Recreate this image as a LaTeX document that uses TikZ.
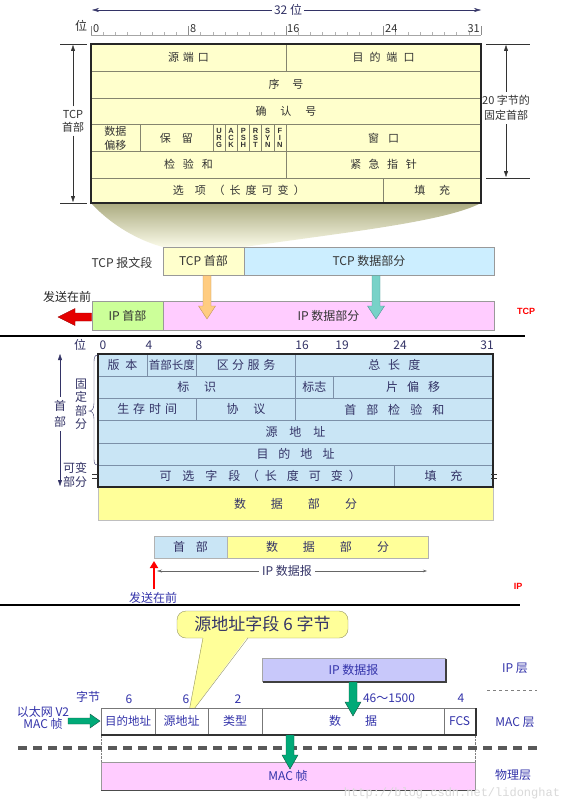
\documentclass[tikz,border=0pt]{standalone}
\usepackage{fontspec}
\setmainfont{Noto Sans CJK SC}
\newfontfamily\lsans{Liberation Sans}
\newfontfamily\wmfont{Liberation Mono}
\usetikzlibrary{arrows.meta,calc}
\makeatletter
\newcommand{\sptext}[2]{\def\sptext@w{#1}\@tfor\sptext@c:=#2\do{\makebox[\sptext@w]{\sptext@c}}}
\makeatother
\newcommand{\boxnode}[7][]{\pgfmathsetmacro\bnw{#5-#3}\pgfmathsetmacro\bnh{#6-#4}%
  \node[boxn,#1,minimum width=\bnw pt,minimum height=\bnh pt] (#2) at ({(#3+#5)/2},{(#4+#6)/2}) {#7};}
% vertical fat arrow: x, y-tail, y-tip, shaft half, head half, style, head length (signed)
\newcommand{\fatv}[7]{\filldraw[#6] ({#1-#4},#2) -- ({#1-#4},{#3-#7}) -- ({#1-#5},{#3-#7}) -- (#1,#3) -- ({#1+#5},{#3-#7}) -- ({#1+#4},{#3-#7}) -- ({#1+#4},#2) -- cycle;}
% horizontal fat arrow: y, x-tail, x-tip, shaft half, head half, style, head length (signed)
\newcommand{\fath}[7]{\filldraw[#6] (#2,{#1-#4}) -- ({#3-#7},{#1-#4}) -- ({#3-#7},{#1-#5}) -- (#3,#1) -- ({#3-#7},{#1+#5}) -- ({#3-#7},{#1+#4}) -- (#2,{#1+#4}) -- cycle;}
\definecolor{tcpy}{HTML}{FFFFCC}
\definecolor{tcpline}{HTML}{85856E}
\definecolor{tcptxt}{HTML}{333333}
\definecolor{ipb}{HTML}{C9E5F5}
\definecolor{ipline}{HTML}{7C90A8}
\definecolor{iptxt}{HTML}{333366}
\definecolor{datay}{HTML}{FFFF99}
\definecolor{lgreen}{HTML}{CCFF99}
\definecolor{lpink}{HTML}{FFCCFF}
\definecolor{lblue}{HTML}{CCEEFF}
\definecolor{purp}{HTML}{C8C8FA}
\definecolor{mactxt}{HTML}{3333AA}
\definecolor{macline}{HTML}{777777}
\definecolor{navyt}{HTML}{333366}
\definecolor{wedgetop}{HTML}{ABAB80}
\definecolor{wedgebot}{HTML}{FAFAE8}
\definecolor{callline}{HTML}{969664}
\definecolor{orfill}{HTML}{FFCC80}
\definecolor{orline}{HTML}{BE965A}
\definecolor{tlfill}{HTML}{78D2C8}
\definecolor{tlline}{HTML}{509696}
\definecolor{grfill}{HTML}{00AA78}
\definecolor{grline}{HTML}{145A46}
\begin{document}
\begin{tikzpicture}[x=1pt,y=-1pt,
  f11/.style={font=\fontsize{11}{13}\selectfont},
  f12/.style={font=\fontsize{12}{14}\selectfont},
  boxn/.style={draw, rectangle, inner sep=0pt, outer sep=0pt},
  tcpcell/.style={boxn, draw=tcpline, fill=tcpy, text=tcptxt, f11},
  flagcell/.style={boxn, draw=tcpline, fill=tcpy, text=black!80, align=center, font=\lsans\fontsize{7.5}{7}\selectfont\bfseries},
  ipcell/.style={boxn, draw=ipline, fill=ipb, text=iptxt, f12},
  maccell/.style={boxn, draw=macline, fill=white, text=mactxt, f12},
  segbox/.style={boxn, draw=gray!80, text=tcptxt, f12},
  thinarrow/.style={-{Triangle[length=6pt,width=4pt]}},
  orangearrow/.style={fill=orfill, draw=orline},
  tealarrow/.style={fill=tlfill, draw=tlline},
  redarrow/.style={fill=red!90!black, draw=red!60!black},
  greenarrow/.style={fill=grfill, draw=grline},
  redlbl/.style={text=red, font=\lsans\fontsize{9}{10}\selectfont\bfseries}
]
\useasboundingbox (0,0) rectangle (576,800);
\fill[white] (0,0) rectangle (576,800);

% ================= TCP header =================
\node[f12, text=navyt, fill=white, inner sep=2pt] (w32) at (288,10) {32 位};
\draw[navyt, -{Stealth[length=7pt,width=4pt]}] (w32.west) -- (92,10);
\draw[navyt, -{Stealth[length=7pt,width=4pt]}] (w32.east) -- (481,10);

\node[f12, text=tcptxt] (rulerwei) at (81,26) {位};
\draw[gray!70] (91,35) -- (481,35);
\foreach \k in {0,...,32} \draw[gray!60] ({91+\k*12.1875},35) -- ++(0,-3);
\foreach \k in {0,8,16,24,32} \draw[gray!90] ({91+\k*12.1875},35) -- ++(0,-9);
\node[f11, text=tcptxt, anchor=south west, inner sep=1pt] (r0) at (92,34) {0};
\node[f11, text=tcptxt, anchor=south west, inner sep=1pt] (r8) at (189,34) {8};
\node[f11, text=tcptxt, anchor=south west, inner sep=1pt] (r16) at (286,34) {16};
\node[f11, text=tcptxt, anchor=south west, inner sep=1pt] (r24) at (384,34) {24};
\node[f11, text=tcptxt, anchor=south east, inner sep=1pt] (r31) at (481,34) {31};

% wedge
\shade[top color=wedgetop, bottom color=wedgebot] (91,203) .. controls (112,226) and (140,241) .. (163,247) -- (244,247) .. controls (340,233) and (445,222) .. (481,203) -- cycle;

\boxnode[tcpcell]{sport}{91}{44}{286}{71}{\sptext{15pt}{源端口}}
\boxnode[tcpcell]{dport}{286}{44}{481}{71}{\sptext{17pt}{目的端口}}
\boxnode[tcpcell]{seq}{91}{71}{481}{98}{\sptext{24pt}{序号}}
\boxnode[tcpcell]{ackn}{91}{98}{481}{124.5}{\sptext{25pt}{确认号}}
\boxnode[tcpcell, align=center, font=\fontsize{11}{14}\selectfont]{doff}{91}{124.5}{139.75}{151.5}{数据\\偏移}
\boxnode[tcpcell]{resv}{139.75}{124.5}{212.875}{151.5}{\sptext{22pt}{保留}}
\boxnode[flagcell]{furg}{212.875}{124.5}{225.06}{151.5}{U\\R\\G}
\boxnode[flagcell]{fack}{225.06}{124.5}{237.25}{151.5}{A\\C\\K}
\boxnode[flagcell]{fpsh}{237.25}{124.5}{249.44}{151.5}{P\\S\\H}
\boxnode[flagcell]{frst}{249.44}{124.5}{261.63}{151.5}{R\\S\\T}
\boxnode[flagcell]{fsyn}{261.63}{124.5}{273.81}{151.5}{S\\Y\\N}
\boxnode[flagcell]{ffin}{273.81}{124.5}{286}{151.5}{F\\I\\N}
\boxnode[tcpcell]{win}{286}{124.5}{481}{151.5}{\sptext{20pt}{窗口}}
\boxnode[tcpcell]{csum}{91}{151.5}{286}{178}{\sptext{19pt}{检验和}}
\boxnode[tcpcell]{urgp}{286}{151.5}{481}{178}{\sptext{18.5pt}{紧急指针}}
\boxnode[tcpcell]{opts}{91}{178}{383.5}{203}{\sptext{22pt}{选项}\sptext{16pt}{（长度可变）}}
\boxnode[tcpcell]{tpad}{383.5}{178}{481}{203}{\sptext{25pt}{填充}}
\draw[line width=1.3pt, black!85] (91,44) rectangle (481,203);

% left annotation
\draw[black!80] (60,44) -- (87,44);
\draw[black!80] (60,203) -- (87,203);
\node[f11, text=tcptxt, align=center, font=\fontsize{11}{13}\selectfont] (tcphdrlbl) at (73,121) {TCP\\首部};
\draw[black!80, thinarrow] (tcphdrlbl.north) -- (73,45);
\draw[black!80, thinarrow] (tcphdrlbl.south) -- (73,202);
% right annotation
\draw[black!80] (486,44) -- (530,44);
\draw[black!80] (486,178) -- (530,178);
\node[text=tcptxt, align=center, font=\fontsize{11}{15}\selectfont] (b20) at (506,108) {20 字节的\\固定首部};
\draw[black!80, thinarrow] (b20.north) -- (506,45);
\draw[black!80, thinarrow] (b20.south) -- (506,177);

% ================= TCP segment / IP =================
\node[f12, text=tcptxt] (tcpseg) at (122,263) {TCP 报文段};
\boxnode[segbox, fill=tcpy]{tcph}{163}{247}{244}{275}{TCP 首部}
\boxnode[segbox, fill=lblue]{tcpd}{244}{247}{494}{275}{TCP 数据部分}
\boxnode[segbox, fill=lgreen]{iph}{92}{301}{163}{330}{IP 首部}
\boxnode[segbox, fill=lpink]{ipd}{163}{301}{494}{330}{IP 数据部分}
\fatv{207}{275.5}{319}{4}{8.5}{orangearrow}{13}
\fatv{376}{275.5}{319}{4}{8.5}{tealarrow}{13}
\node[f12, text=black!85] (send1) at (67,297) {发送在前};
\fath{317}{91.5}{58}{4}{8.5}{redarrow}{-17}
\node[redlbl] (tcplbl) at (526,311) {TCP};
\draw[line width=2pt] (0,336) -- (525,336);

% ================= IP header =================
\node[f12, text=iptxt] (ipwei) at (80,345) {位};
\node[f12, text=iptxt] (i0) at (103,345) {0};
\node[f12, text=iptxt] (i4) at (149,345) {4};
\node[f12, text=iptxt] (i8) at (199,345) {8};
\node[f12, text=iptxt] (i16) at (302,345) {16};
\node[f12, text=iptxt] (i19) at (342,345) {19};
\node[f12, text=iptxt] (i24) at (400,345) {24};
\node[f12, text=iptxt] (i31) at (487,345) {31};

\boxnode[ipcell]{ver}{98}{354}{147}{376.2}{\sptext{18pt}{版本}}
\boxnode[ipcell, font=\fontsize{11.5}{13}\selectfont]{ihl}{147}{354}{196.5}{376.2}{首部长度}
\boxnode[ipcell]{tos}{196.5}{354}{295.5}{376.2}{\sptext{15.5pt}{区分服务}}
\boxnode[ipcell]{totlen}{295.5}{354}{493}{376.2}{\sptext{20pt}{总长度}}
\boxnode[ipcell]{ident}{98}{376.2}{295.5}{398.3}{\sptext{27pt}{标识}}
\boxnode[ipcell]{flg}{295.5}{376.2}{333}{398.3}{标志}
\boxnode[ipcell]{frag}{333}{376.2}{493}{398.3}{\sptext{21pt}{片偏移}}
\boxnode[ipcell]{ttl}{98}{398.3}{196.5}{420.5}{\sptext{16pt}{生存时间}}
\boxnode[ipcell]{proto}{196.5}{398.3}{295.5}{420.5}{\sptext{27pt}{协议}}
\boxnode[ipcell]{hcs}{295.5}{398.3}{493}{420.5}{\sptext{22pt}{首部检验和}}
\boxnode[ipcell]{srcip}{98}{420.5}{493}{442.7}{\sptext{24pt}{源地址}}
\boxnode[ipcell]{dstip}{98}{442.7}{493}{464.8}{\sptext{22pt}{目的地址}}
\boxnode[ipcell]{ipopt}{98}{464.8}{394}{487}{\hspace*{24pt}\sptext{23pt}{可选字段}\makebox[14pt]{（}\sptext{22pt}{长度可变}\makebox[14pt]{）}}
\boxnode[ipcell]{ippad}{394}{464.8}{493}{487}{\sptext{26pt}{填充}}
\boxnode[boxn, fill=datay, draw=gray!50, text=iptxt, f12]{ipdata}{98}{487}{493}{520}{\sptext{37pt}{数据部分}}
\draw[line width=1.2pt, black!85] (98,354) rectangle (493,487);

% left annotations
\node[text=iptxt, align=center, font=\fontsize{12}{16}\selectfont] (shoubu) at (60,414) {首\\部};
\draw[iptxt, thinarrow] (shoubu.north) -- (60,354);
\draw[iptxt, thinarrow] (shoubu.south) -- (60,486);
\draw[iptxt] (98,355) .. controls (94,355) and (94,358) .. (94,364) -- (94,403) .. controls (94,409) and (92,411) .. (89,411) .. controls (92,411) and (94,413) .. (94,419) -- (94,457) .. controls (94,463) and (94,465) .. (98,465);
\node[text=iptxt, align=center, font=\fontsize{12}{13.5}\selectfont] (guding) at (81,404) {固\\定\\部\\分};
\node[text=iptxt, align=center, font=\fontsize{12}{14}\selectfont] (kebian) at (75,475) {可变\\部分};
\draw[black!80] (92,474.5) -- (98,474.5) (92,478) -- (98,478);
\draw[black!80] (491,474.5) -- (497,474.5) (491,478) -- (497,478);

% ================= IP datagram =================
\boxnode[boxn, fill=ipb, draw=gray!60, text=iptxt, f12]{dgh}{154}{536}{227}{558}{\sptext{23pt}{首部}}
\boxnode[boxn, fill=datay, draw=gray!60, text=iptxt, f12]{dgd}{227}{536}{428}{558}{\sptext{37pt}{数据部分}}
\node[f12, text=iptxt, inner sep=3pt] (dglbl) at (287,571) {IP 数据报};
\draw[gray!80!black, -{Stealth[length=5pt,width=3pt]}] (dglbl.west) -- (157,571);
\draw[gray!80!black, -{Stealth[length=4pt,width=2.5pt]}] (dglbl.east) -- (427,571);
\draw[red, line width=2.5pt, -{Triangle[length=7pt,width=8pt]}] (154,589) -- (154,561);
\node[f12, text=mactxt] (send2) at (153,598) {发送在前};
\node[redlbl] (iplbl) at (518,586) {IP};
\draw[line width=1.6pt] (0,605) -- (520,605);

% ================= MAC frame =================
\node[draw=callline, fill=datay, rounded corners=9pt, minimum width=171pt, minimum height=27pt, inner sep=0pt, text=navyt, font=\fontsize{17}{18}\selectfont] (callout) at (262.5,624.5) {源地址字段 6 字节};
\fill[datay] (203,636) -- (188,717) -- (248,636) -- cycle;
\draw[callline] (203,638) -- (188,717) -- (248,638);

\boxnode[boxn, fill=purp, draw=gray!70, text=mactxt, f12]{ipdg}{262}{658}{445}{681}{IP 数据报}
\draw[line width=1.8pt, black!75] (263,682) -- (446,682) -- (446,659);
\node[f12, text=mactxt] (iplayer) at (515,668) {IP 层};
\draw[gray, dashed] (487,690) -- (537,690);
\node[f12, text=mactxt] (bytes) at (88,697) {字节};
\node[f12, text=mactxt] (n6a) at (129,699) {6};
\node[f12, text=mactxt] (n6b) at (186,699) {6};
\node[f12, text=mactxt] (n2) at (238,699) {2};
\node[f12, text=mactxt] (n46) at (389,698) {46～1500};
\node[f12, text=mactxt] (n4) at (461,698) {4};

\boxnode[maccell, font=\fontsize{11.5}{13}\selectfont]{mdst}{101}{708}{155}{734}{目的地址}
\boxnode[maccell]{msrc}{155}{708}{208}{734}{源地址}
\boxnode[maccell]{mtype}{208}{708}{262}{734}{类型}
\boxnode[maccell]{mdata}{262}{708}{444}{734}{\sptext{36pt}{数据}}
\boxnode[maccell]{mfcs}{444}{708}{475}{734}{FCS}
\draw[line width=1.8pt, black!80] (101,735) -- (476,735) -- (476,708);
\node[f12, text=mactxt] (maclayer) at (515,722) {MAC 层};
\node[text=mactxt, align=center, font=\fontsize{12}{12}\selectfont] (ethv2) at (43,718) {以太网 V2\\MAC 帧};
\fath{721}{68}{100}{3}{7}{greenarrow}{10}
\fatv{353}{682}{716}{4}{8}{greenarrow}{14}

\draw[gray, densely dotted] (101,736) -- (101,762);
\draw[gray, densely dotted] (475,736) -- (475,762);
\draw[line width=3.5pt, black!65, dash pattern=on 9pt off 6pt] (18,748) -- (538,748);
\boxnode[boxn, fill=lpink, draw=gray!80, text=mactxt, f12]{macf}{101}{762}{475}{790}{MAC 帧}
\draw[line width=1.5pt, black!70] (101,790.5) -- (475,790.5);
\fatv{290}{735}{769}{4}{8}{greenarrow}{14}
\node[f12, text=mactxt, inner sep=1pt] (phylayer) at (513,775) {物理层};
\node[text=gray!30, inner sep=1pt, font=\wmfont\fontsize{12}{13}\selectfont] (wm) at (452,793) {http://blog.csdn.net/lidonghat};
\end{tikzpicture}
\end{document}
